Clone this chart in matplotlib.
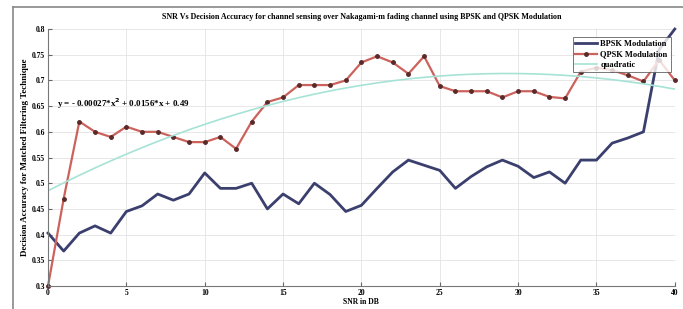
import numpy as np
import matplotlib.pyplot as plt
from matplotlib.lines import Line2D

# SNR in dB (x axis)
snr = np.arange(0, 41)

# decision accuracy
bpsk = [0.403, 0.368, 0.403, 0.417, 0.403, 0.445, 0.456, 0.479, 0.467, 0.479,
        0.52, 0.49, 0.49, 0.50, 0.45, 0.479, 0.46, 0.50, 0.478, 0.445,
        0.457, 0.49, 0.522, 0.545, 0.535, 0.525, 0.49, 0.513, 0.532, 0.545,
        0.533, 0.511, 0.522, 0.50, 0.545, 0.545, 0.578, 0.588, 0.60, 0.76,
        0.80]
qpsk = [0.30, 0.47, 0.62, 0.60, 0.59, 0.61, 0.60, 0.60, 0.59, 0.58,
        0.58, 0.59, 0.567, 0.62, 0.658, 0.667, 0.691, 0.691, 0.691, 0.70,
        0.735, 0.747, 0.735, 0.713, 0.747, 0.689, 0.679, 0.679, 0.679, 0.667,
        0.679, 0.679, 0.668, 0.665, 0.717, 0.725, 0.72, 0.71, 0.698, 0.74,
        0.70]

xticks = [0, 5, 10, 15, 20, 25, 30, 35, 40]
yticks = [0.3, 0.35, 0.4, 0.45, 0.5, 0.55, 0.6, 0.65, 0.7, 0.75, 0.8]

plt.rcParams['font.family'] = ['Liberation Serif', 'DejaVu Serif']
plt.rcParams['font.weight'] = 'bold'

fig = plt.figure(figsize=(6.83, 3.09), dpi=100)
ax = fig.add_axes([0.0703, 0.0744, 0.9177, 0.8316])

# quadratic fit of the QPSK curve (basic fitting)
coef = np.polyfit(snr, qpsk, 2)
fit = np.polyval(coef, snr)

ax.plot(snr, bpsk, '-', color='#3a3f6e', linewidth=2, label='BPSK Modulation', clip_on=False)
ax.plot(snr, qpsk, 'o-', color='#cc625c', linewidth=1.6, markersize=2.5,
        markerfacecolor='#5a2a2a', markeredgecolor='#5a2a2a', label='QPSK Modulation', clip_on=False)
ax.plot(snr, fit, '-', color='#a6e3d6', linewidth=1.2, label='quadratic')

eq = 'y = - %.5f*x$^{2}$ + %.4f*x + %.2f' % (abs(coef[0]), coef[1], coef[2])
ax.text(0.6, 0.655, eq, fontsize=6.5, fontweight='bold', va='center')

ax.set_xlim(0, 40)
ax.set_ylim(0.3, 0.8)
ax.set_xticks(xticks)
ax.set_yticks(yticks)
ax.set_yticklabels(['%g' % v for v in yticks])
ax.tick_params(labelsize=5.5, direction='in', length=3, color='#666666', pad=2)
ax.grid(True, color='#e3e3e3', linewidth=0.6)
for s in ['top', 'right']:
    ax.spines[s].set_visible(False)
for s in ['left', 'bottom']:
    ax.spines[s].set_color('#777777')
    ax.spines[s].set_linewidth(0.8)

ax.set_title('SNR Vs Decision Accuracy for channel sensing over Nakagami-m fading channel using BPSK and QPSK Modulation',
             fontsize=5.8, fontweight='bold', pad=7)
ax.set_xlabel('SNR in DB', fontsize=5.5, fontweight='bold', labelpad=1)
ax.set_ylabel('Decision Accuracy for Matched Filtering Technique', fontsize=6.5, fontweight='bold', labelpad=2)

leg = ax.legend(loc='upper right', bbox_to_anchor=(1.0, 0.985), fontsize=6, frameon=True,
                fancybox=False, edgecolor='#555555', handlelength=2.6, borderpad=0.35,
                labelspacing=0.3, handletextpad=0.4)
leg.get_frame().set_linewidth(0.7)

# gray frame around the figure window
fig.add_artist(Line2D([0.019, 0.019], [0.0, 0.977], color='#888888', linewidth=1.2))
fig.add_artist(Line2D([0.019, 1.0], [0.977, 0.977], color='#888888', linewidth=1.2))

fig.savefig('out.png', dpi=100)
